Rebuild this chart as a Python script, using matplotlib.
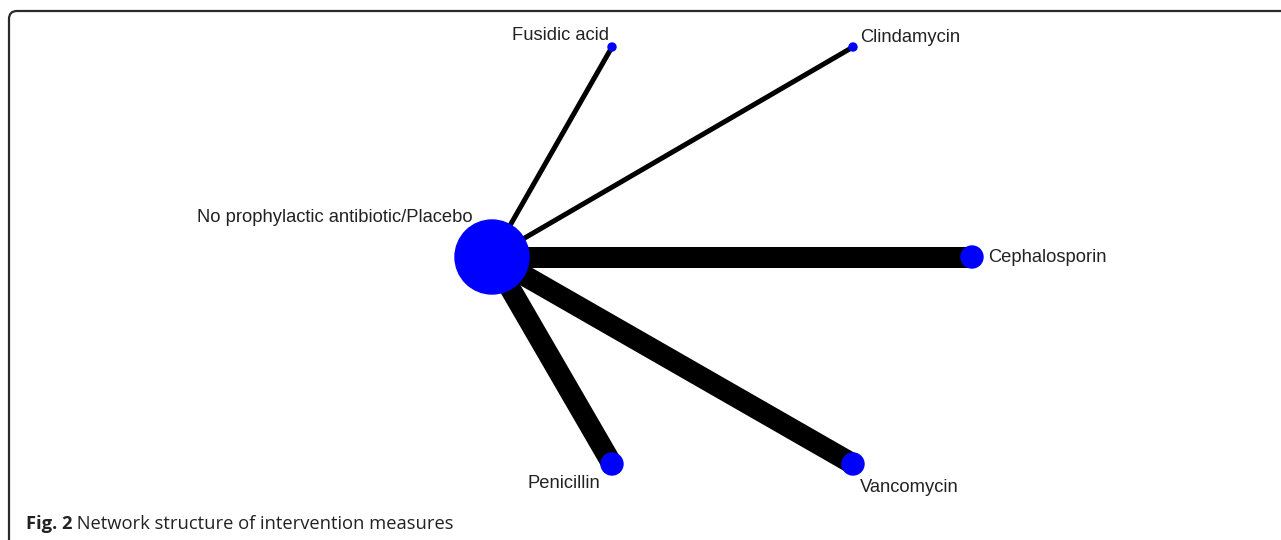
import matplotlib.pyplot as plt
from matplotlib.patches import Circle, PathPatch
from matplotlib.path import Path

# treatments in the network and their plot layout
treatments = ["No prophylactic antibiotic/Placebo", "Fusidic acid", "Clindamycin",
              "Cephalosporin", "Vancomycin", "Penicillin"]
node_x = [492, 612, 853, 972, 853, 612]
node_y = [257, 47, 47, 257, 464, 464]
node_r = [37, 4, 4, 11, 11, 11]

# comparisons against placebo: (from, to, edge thickness)
edge_from = [0, 0, 0, 0, 0]
edge_to = [1, 2, 3, 4, 5]
edge_w = [5, 5, 21, 21, 21]

W, H = 1281, 540
fig = plt.figure(figsize=(W / 100, H / 100), dpi=100)
ax = fig.add_axes([0, 0, 1, 1])
ax.set_xlim(0, W)
ax.set_ylim(H, 0)
ax.set_aspect("equal")
ax.axis("off")

px = 72 / 100  # points per pixel

for a, b, w in zip(edge_from, edge_to, edge_w):
    ax.plot([node_x[a], node_x[b]], [node_y[a], node_y[b]], color="black",
            lw=w * px, solid_capstyle="butt", zorder=1)

for x, y, r in zip(node_x, node_y, node_r):
    ax.add_patch(Circle((x, y), r, color="#0000ff", zorder=2))

lab = dict(fontsize=13.2, family="Liberation Sans", color="#222222")
ax.text(473, 217, treatments[0], ha="right", va="center", **lab)
ax.text(560, 35, treatments[1], ha="center", va="center", **lab)
ax.text(860, 38, treatments[2], ha="left", va="center", **lab)
ax.text(988, 257, treatments[3], ha="left", va="center", **lab)
ax.text(909, 488, treatments[4], ha="center", va="center", **lab)
ax.text(564, 483, treatments[5], ha="center", va="center", **lab)

# frame: left and top edges with a rounded corner, running off the canvas
frame = Path([(9, H + 20), (9, 19), (9, 11), (17, 11), (W + 20, 11)],
             [Path.MOVETO, Path.LINETO, Path.CURVE3, Path.CURVE3, Path.LINETO])
ax.add_patch(PathPatch(frame, fill=False, edgecolor="#2a2a2a", lw=1.6,
                       clip_on=True))

cap = ax.text(26, 529, "Fig. 2", ha="left", va="baseline", fontsize=13.2,
              family="Open Sans", weight="bold", color="#222222")
ax.annotate(" Network structure of intervention measures", xy=(1, 0),
            xycoords=cap, va="bottom", ha="left", fontsize=13.2,
            family="Open Sans", color="#222222")

fig.savefig("out.png", dpi=100)
